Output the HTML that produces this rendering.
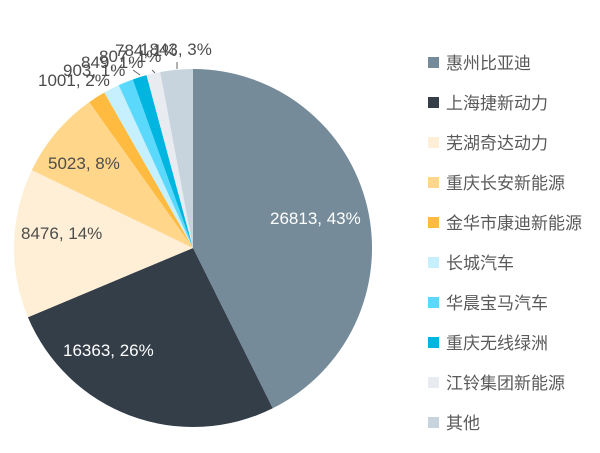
<!DOCTYPE html>
<html>
<head>
<meta charset="utf-8">
<style>
html,body{margin:0;padding:0;background:#fff;}
svg{display:block;}
.lbl{font-family:"Liberation Sans",Arial,sans-serif;font-size:17px;fill:#4d4d4d;}
.wl{font-family:"Liberation Sans",Arial,sans-serif;font-size:17px;fill:#ffffff;}
.lg{font-family:"Liberation Sans","Noto Sans CJK SC",sans-serif;font-size:17px;fill:#5a5a5a;}
</style>
</head>
<body>
<svg width="600" height="453" viewBox="0 0 600 453" xmlns="http://www.w3.org/2000/svg">
<rect width="600" height="453" fill="#fff"/>
<g>
<path d="M193,248 L193,69 A179,179 0 0 1 272.73,408.27 Z" fill="#758b9a"/>
<path d="M193,248 L272.73,408.27 A179,179 0 0 1 27.92,317.19 Z" fill="#333e48"/>
<path d="M193,248 L27.92,317.19 A179,179 0 0 1 31.85,170.09 Z" fill="#ffefd6"/>
<path d="M193,248 L31.85,170.09 A179,179 0 0 1 89.24,102.13 Z" fill="#ffd68a"/>
<path d="M193,248 L89.24,102.13 A179,179 0 0 1 104.31,92.52 Z" fill="#ffbb3f"/>
<path d="M193,248 L104.31,92.52 A179,179 0 0 1 118.68,85.15 Z" fill="#c6f0fd"/>
<path d="M193,248 L118.68,85.15 A179,179 0 0 1 132.74,79.45 Z" fill="#5bd9fc"/>
<path d="M193,248 L132.74,79.45 A179,179 0 0 1 146.52,75.14 Z" fill="#00b5e0"/>
<path d="M193,248 L146.52,75.14 A179,179 0 0 1 160.23,72.03 Z" fill="#e8ecf0"/>
<path d="M193,248 L160.23,72.03 A179,179 0 0 1 193,69 Z" fill="#c8d4dd"/>
</g>
<g stroke="#666" stroke-width="1" fill="none">
<line x1="133" y1="70" x2="140" y2="75"/>
<line x1="152" y1="70" x2="155" y2="73"/>
<line x1="177" y1="62" x2="177" y2="69"/>
</g>
<text class="wl" x="270" y="224">26813, 43%</text>
<text class="wl" x="63" y="356">16363, 26%</text>
<text class="lbl" x="21" y="239">8476, 14%</text>
<text class="lbl" x="48" y="169">5023, 8%</text>
<text class="lbl" x="38" y="86">1001, 2%</text>
<text class="lbl" x="63" y="76">903, 1%</text>
<text class="lbl" x="81" y="68">849, 1%</text>
<text class="lbl" x="99" y="62">807, 1%</text>
<text class="lbl" x="115" y="56">784, 1%</text>
<text class="lbl" x="140" y="55">1843, 3%</text>
<g>
<rect x="428" y="57" width="11" height="11" fill="#758b9a"/>
<text class="lg" x="446" y="69">惠州比亚迪</text>
<rect x="428" y="97" width="11" height="11" fill="#333e48"/>
<text class="lg" x="446" y="109">上海捷新动力</text>
<rect x="428" y="137" width="11" height="11" fill="#ffefd6"/>
<text class="lg" x="446" y="149">芜湖奇达动力</text>
<rect x="428" y="177" width="11" height="11" fill="#ffd68a"/>
<text class="lg" x="446" y="189">重庆长安新能源</text>
<rect x="428" y="217" width="11" height="11" fill="#ffbb3f"/>
<text class="lg" x="446" y="229">金华市康迪新能源</text>
<rect x="428" y="257" width="11" height="11" fill="#c6f0fd"/>
<text class="lg" x="446" y="269">长城汽车</text>
<rect x="428" y="297" width="11" height="11" fill="#5bd9fc"/>
<text class="lg" x="446" y="309">华晨宝马汽车</text>
<rect x="428" y="337" width="11" height="11" fill="#00b5e0"/>
<text class="lg" x="446" y="349">重庆无线绿洲</text>
<rect x="428" y="377" width="11" height="11" fill="#e8ecf0"/>
<text class="lg" x="446" y="389">江铃集团新能源</text>
<rect x="428" y="417" width="11" height="11" fill="#c8d4dd"/>
<text class="lg" x="446" y="429">其他</text>
</g>
</svg>
</body>
</html>
